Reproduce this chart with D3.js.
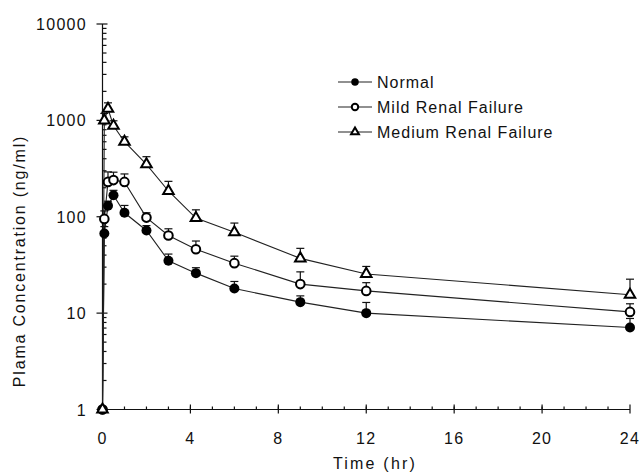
<!DOCTYPE html>
<html>
<head>
<meta charset="utf-8">
<script src="https://cdnjs.cloudflare.com/ajax/libs/d3/7.8.5/d3.min.js"></script>
<style>
  body { margin: 0; background: #fff; }
  svg text { font-family: "Liberation Sans", Arial, sans-serif; fill: #111; }
</style>
</head>
<body>
<svg width="641" height="473"></svg>
<script>
// sampling times (hr)
const times = [0, 0.083, 0.25, 0.5, 1, 2, 3, 4.25, 6, 9, 12, 24];
// mean plasma concentration (ng/ml) and upper error
const normal = [1, 67, 130, 167, 110, 72, 35, 26, 18, 13, 10, 7.1];
const normalErr = [0, 12, 15, 21, 21, 9, 6, 3.6, 3.3, 2.1, 2.9, 1.7];
const mild = [1, 95, 230, 240, 230, 98, 64, 46, 33, 20, 17, 10.3];
const mildErr = [0, 20, 62, 50, 48, 12, 11, 10, 6, 6.8, 3.7, 2.2];
const medium = [1, 1000, 1320, 880, 600, 350, 185, 97, 69, 37, 25.5, 15.5];
const mediumErr = [0, 180, 200, 110, 75, 70, 48, 21, 17, 10, 5, 7];

const seriesNames = ["Normal", "Mild Renal Failure", "Medium Renal Failure"];
const xTicks = [0, 4, 8, 12, 16, 20, 24];
const yTicks = [1, 10, 100, 1000, 10000];

const svg = d3.select("svg");
const x = d3.scaleLinear().domain([0, 24]).range([102.5, 630]);
const y = d3.scaleLog().domain([1, 10000]).range([409.5, 24]);

const series = [
    { name: seriesNames[0], vals: normal, err: normalErr, kind: "filled" },
    { name: seriesNames[1], vals: mild, err: mildErr, kind: "open" },
    { name: seriesNames[2], vals: medium, err: mediumErr, kind: "tri" }
];

// axes
const axisG = svg.append("g").attr("stroke", "#111").attr("stroke-width", 1.2);
axisG.append("line")
    .attr("x1", x(0)).attr("x2", x(0))
    .attr("y1", y(10000)).attr("y2", y(1));
axisG.append("line")
    .attr("x1", x(0)).attr("x2", x(24))
    .attr("y1", y(1)).attr("y2", y(1));

// y ticks (major + minor log)
const yAll = y.ticks();
axisG.selectAll(".ytick")
    .data(yAll)
    .enter()
    .append("line")
    .attr("x1", d => yTicks.includes(d) ? x(0) - 6 : x(0))
    .attr("x2", d => yTicks.includes(d) ? x(0) + 5 : x(0) + 4)
    .attr("y1", d => y(d))
    .attr("y2", d => y(d));

svg.selectAll(".ylab")
    .data(yTicks)
    .enter()
    .append("text")
    .attr("x", 87)
    .attr("y", d => y(d) + 6)
    .attr("text-anchor", "end")
    .attr("font-size", 16)
    .attr("letter-spacing", 1.3)
    .text(d => d);

// x ticks: minor every hour, major every 4
axisG.selectAll(".xminor")
    .data(d3.range(1, 24))
    .enter()
    .append("line")
    .attr("x1", d => x(d)).attr("x2", d => x(d))
    .attr("y1", y(1)).attr("y2", y(1) - 3);
axisG.selectAll(".xmajor")
    .data(xTicks)
    .enter()
    .append("line")
    .attr("x1", d => x(d)).attr("x2", d => x(d))
    .attr("y1", y(1) - 5).attr("y2", y(1) + 4);

svg.selectAll(".xlab")
    .data(xTicks)
    .enter()
    .append("text")
    .attr("x", d => x(d))
    .attr("y", 444)
    .attr("text-anchor", "middle")
    .attr("font-size", 16)
    .attr("letter-spacing", 1.3)
    .text(d => d);

svg.append("text")
    .attr("x", 375)
    .attr("y", 469)
    .attr("text-anchor", "middle")
    .attr("font-size", 16)
    .attr("letter-spacing", 2.2)
    .text("Time (hr)");

svg.append("text")
    .attr("transform", "translate(25,261) rotate(-90)")
    .attr("text-anchor", "middle")
    .attr("font-size", 16)
    .attr("letter-spacing", 1.8)
    .text("Plama Concentration (ng/ml)");

// lines
const line = d3.line().x((d, i) => x(times[i])).y(d => y(d));
svg.selectAll(".series")
    .data(series)
    .enter()
    .append("path")
    .attr("d", d => line(d.vals))
    .attr("fill", "none")
    .attr("stroke", "#222")
    .attr("stroke-width", 1.1);

// error bars
series.forEach(s => {
    const g = svg.append("g").attr("stroke", "#111").attr("stroke-width", 1.2);
    s.vals.forEach((v, i) => {
        if (!s.err[i]) return;
        const top = y(v + s.err[i]);
        g.append("line")
            .attr("x1", x(times[i])).attr("x2", x(times[i]))
            .attr("y1", y(v)).attr("y2", top);
        g.append("line")
            .attr("x1", x(times[i]) - 4).attr("x2", x(times[i]) + 4)
            .attr("y1", top).attr("y2", top);
    });
});

function drawMarker(g, kind, cx, cy, small) {
    const k = small ? 0.75 : 1;
    if (kind === "filled") {
        g.append("circle").attr("cx", cx).attr("cy", cy).attr("r", 5 * k)
            .attr("fill", "#000");
    } else if (kind === "open") {
        g.append("circle").attr("cx", cx).attr("cy", cy).attr("r", 4.3 * k)
            .attr("fill", "#fff").attr("stroke", "#000").attr("stroke-width", 2);
    } else {
        g.append("path")
            .attr("d", d3.symbol().type(d3.symbolTriangle).size(48 * k * k)())
            .attr("transform", `translate(${cx},${cy})`)
            .attr("fill", "#fff").attr("stroke", "#000").attr("stroke-width", 2);
    }
}

// markers
series.forEach(s => {
    const g = svg.append("g");
    s.vals.forEach((v, i) => drawMarker(g, s.kind, x(times[i]), y(v), false));
});

// legend
const legendY = [82, 107, 132];
series.forEach((s, i) => {
    const g = svg.append("g");
    g.append("line")
        .attr("x1", 338).attr("x2", 372)
        .attr("y1", legendY[i]).attr("y2", legendY[i])
        .attr("stroke", "#222").attr("stroke-width", 1.2);
    drawMarker(g, s.kind, 355, legendY[i], true);
    g.append("text")
        .attr("x", 377)
        .attr("y", legendY[i] + 6)
        .attr("font-size", 16)
        .attr("letter-spacing", 1)
        .text(s.name);
});
</script>
</body>
</html>
